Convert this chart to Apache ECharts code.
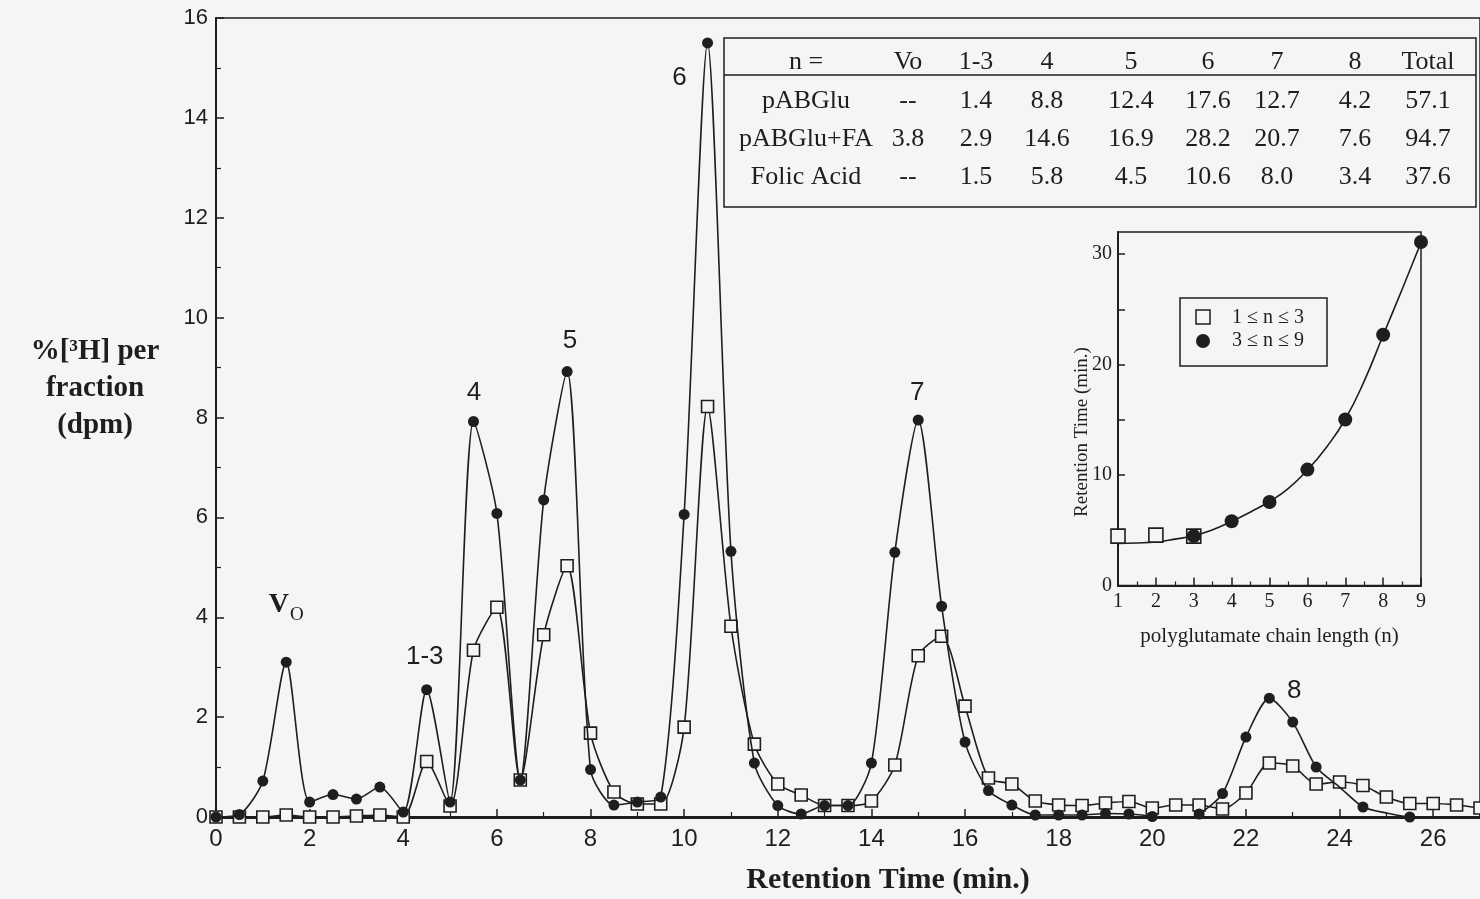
<!DOCTYPE html>
<html>
<head>
<meta charset="utf-8">
<title>Polyglutamate HPLC profile</title>
<script src="https://cdn.jsdelivr.net/npm/echarts@6/dist/echarts.min.js"></script>
<style>
  html, body { margin: 0; padding: 0; background: #f5f5f7; }
  #chart { width: 1480px; height: 899px; }
</style>
</head>
<body>
<div id="chart"></div>
<script>
// Fraction times (min.), one fraction every 0.5 min
const times = [0, 0.5, 1, 1.5, 2, 2.5, 3, 3.5, 4, 4.5, 5, 5.5, 6, 6.5, 7, 7.5, 8, 8.5, 9, 9.5,
  10, 10.5, 11, 11.5, 12, 12.5, 13, 13.5, 14, 14.5, 15, 15.5, 16, 16.5, 17, 17.5, 18, 18.5, 19, 19.5,
  20, 20.5, 21, 21.5, 22, 22.5, 23, 23.5, 24, 24.5, 25, 25.5, 26, 26.5, 27];

// Filled circles: % [3H] per fraction
const circleValues = [0, 0.05, 0.72, 3.1, 0.3, 0.45, 0.36, 0.6, 0.1, 2.55, 0.3, 7.92, 6.08, 0.74, 6.35, 8.92, 0.95, 0.24, 0.3, 0.4,
  6.06, 15.5, 5.32, 1.08, 0.23, 0.06, 0.23, 0.23, 1.08, 5.3, 7.95, 4.22, 1.5, 0.53, 0.24, 0.04, 0.04, 0.04, 0.07, 0.06,
  0.01, -0.1, 0.06, 0.47, 1.6, 2.38, 1.9, 1.0, 0.6, 0.2, 0.08, 0.0, 0, 0, 0];
// fractions of the circle trace drawn without a marker
const circleUnmarked = [24, 25, 26, 26.5, 27];

// Open squares: % [3H] per fraction
const squareValues = [0, 0, 0, 0.04, 0, 0, 0.02, 0.04, 0, 1.11, 0.22, 3.34, 4.2, 0.74, 3.65, 5.03, 1.68, 0.5, 0.26, 0.26,
  1.8, 8.22, 3.82, 1.46, 0.66, 0.44, 0.23, 0.23, 0.32, 1.04, 3.23, 3.62, 2.22, 0.78, 0.66, 0.32, 0.24, 0.23, 0.28, 0.31,
  0.18, 0.24, 0.24, 0.16, 0.48, 1.08, 1.02, 0.66, 0.7, 0.63, 0.4, 0.27, 0.27, 0.24, 0.18];

// Peak names and where they sit (time, %)
const peakNames = ['Vo', '1-3', '4', '5', '6', '7', '8'];
const peakTimes = [1.5, 4.46, 5.51, 7.56, 9.9, 14.98, 23.03];
const peakLevels = [4.22, 3.21, 8.5, 9.53, 14.8, 8.5, 2.52];

// Axis ticks
const yTicks = [0, 2, 4, 6, 8, 10, 12, 14, 16];
const xTicks = [0, 2, 4, 6, 8, 10, 12, 14, 16, 18, 20, 22, 24, 26];

// Quantification table
const tableHeader = ['n =', 'Vo', '1-3', '4', '5', '6', '7', '8', 'Total'];
const tableRowPABGlu = ['pABGlu', '--', '1.4', '8.8', '12.4', '17.6', '12.7', '4.2', '57.1'];
const tableRowPABGluFA = ['pABGlu+FA', '3.8', '2.9', '14.6', '16.9', '28.2', '20.7', '7.6', '94.7'];
const tableRowFolic = ['Folic Acid', '--', '1.5', '5.8', '4.5', '10.6', '8.0', '3.4', '37.6'];

// Inset: retention time vs polyglutamate chain length
const insetSquareN = [1, 2, 3];
const insetSquareRT = [4.47, 4.56, 4.47];
const insetCircleN = [3, 4, 5, 6, 7, 8, 9];
const insetCircleRT = [4.47, 5.82, 7.56, 10.49, 15.03, 22.7, 31.1];
const insetFitN = [1, 1.5, 2, 2.5, 3, 3.5, 4, 4.5, 5, 5.5, 6, 6.5, 7, 7.5, 8, 8.5, 9];
const insetFitRT = [3.8, 3.85, 3.95, 4.2, 4.5, 5.05, 5.8, 6.66, 7.6, 8.8, 10.45, 12.5, 15.05, 18.5, 22.65, 26.8, 31.05];
const insetLegend = ['1 \u2264 n \u2264 3', '3 \u2264 n \u2264 9'];

const BG = '#f5f5f7';
const INK = '#1e1e1e';
const SANS = '"Liberation Sans", Arial, sans-serif';
const SERIF = '"Liberation Serif", "Times New Roman", serif';

const circleData = times.map((t, i) =>
  circleUnmarked.includes(t) ? { value: [t, circleValues[i]], symbol: 'none' } : [t, circleValues[i]]);
const squareData = times.map((t, i) => [t, squareValues[i]]);
const peakData = peakNames.map((n, i) => [peakTimes[i], peakLevels[i], n]);

// table layout
const tableLeft = 724, tableTop = 38, tableWidth = 752, tableHeight = 169;
const colCenters = [806, 908, 976, 1047, 1131, 1208, 1277, 1355, 1428];
const rowCenters = [62, 101, 139, 177];
const tableGraphics = [
  { type: 'rect', shape: { x: tableLeft, y: tableTop, width: tableWidth, height: tableHeight },
    style: { fill: BG, stroke: INK, lineWidth: 1.5 } },
  { type: 'line', shape: { x1: tableLeft, y1: 75, x2: tableLeft + tableWidth, y2: 75 },
    style: { stroke: INK, lineWidth: 1.5 } }
];
[tableHeader, tableRowPABGlu, tableRowPABGluFA, tableRowFolic].forEach((row, r) => {
  row.forEach((cell, c) => {
    tableGraphics.push({
      type: 'text', x: colCenters[c], y: rowCenters[r],
      style: { text: cell, font: '26px ' + SERIF, fill: INK, align: 'center', verticalAlign: 'middle' }
    });
  });
});

// inset legend box
const legendGraphics = [
  { type: 'rect', shape: { x: 1180, y: 298, width: 147, height: 68 },
    style: { fill: BG, stroke: INK, lineWidth: 1.5 } },
  { type: 'rect', shape: { x: 1196, y: 310, width: 14, height: 14 },
    style: { fill: BG, stroke: INK, lineWidth: 1.5 } },
  { type: 'circle', shape: { cx: 1203, cy: 341, r: 7 }, style: { fill: INK } },
  { type: 'text', x: 1268, y: 318, style: { text: insetLegend[0], font: '20px ' + SERIF, fill: INK, align: 'center', verticalAlign: 'middle' } },
  { type: 'text', x: 1268, y: 341, style: { text: insetLegend[1], font: '20px ' + SERIF, fill: INK, align: 'center', verticalAlign: 'middle' } }
];

const chart = echarts.init(document.getElementById('chart'), null, { renderer: 'canvas' });

chart.setOption({
  backgroundColor: BG,
  animation: false,
  grid: [
    { left: 216, top: 18, right: -1, bottom: 82, show: true, borderColor: INK, borderWidth: 1.5, backgroundColor: 'transparent' },
    { left: 1118, top: 232, right: 59, bottom: 313.5, show: true, borderColor: INK, borderWidth: 1.5, backgroundColor: 'transparent' }
  ],
  xAxis: [
    {
      type: 'value', gridIndex: 0, min: 0, max: 27, interval: 2,
      axisLine: { show: true, onZero: false, lineStyle: { color: INK, width: 3 } },
      axisTick: { show: true, inside: true, length: 8, lineStyle: { color: INK, width: 1.5 } },
      minorTick: { show: true, splitNumber: 2, length: 5, lineStyle: { color: INK, width: 1.2 } },
      axisLabel: { show: true, fontFamily: SANS, fontSize: 24, color: INK, margin: 10,
        customValues: xTicks },
      splitLine: { show: false }
    },
    {
      type: 'value', gridIndex: 1, min: 1, max: 9, interval: 1,
      name: 'polyglutamate chain length (n)', nameLocation: 'middle', nameGap: 40,
      nameTextStyle: { fontFamily: SERIF, fontSize: 21, color: INK },
      axisLine: { show: true, onZero: false, lineStyle: { color: INK, width: 2 } },
      axisTick: { show: true, inside: true, length: 8, lineStyle: { color: INK, width: 1.5 } },
      minorTick: { show: true, splitNumber: 2, length: 4, lineStyle: { color: INK, width: 1.2 } },
      axisLabel: { show: true, fontFamily: SERIF, fontSize: 20, color: INK, margin: 6 },
      splitLine: { show: false }
    }
  ],
  yAxis: [
    {
      type: 'value', gridIndex: 0, min: 0, max: 16, interval: 2,
      axisLine: { show: true, onZero: false, lineStyle: { color: INK, width: 2 } },
      axisTick: { show: true, inside: true, length: 8, lineStyle: { color: INK, width: 1.5 } },
      minorTick: { show: true, splitNumber: 2, length: 5, lineStyle: { color: INK, width: 1.2 } },
      axisLabel: { show: true, fontFamily: SANS, fontSize: 22, color: INK, margin: 8, customValues: yTicks },
      splitLine: { show: false }
    },
    {
      type: 'value', gridIndex: 1, min: 0, max: 32,
      axisLine: { show: true, onZero: false, lineStyle: { color: INK, width: 2 } },
      axisTick: { show: true, inside: true, length: 7, lineStyle: { color: INK, width: 1.5 },
        customValues: [0, 5, 10, 15, 20, 25, 30] },
      axisLabel: { show: true, fontFamily: SERIF, fontSize: 20, color: INK, margin: 6,
        customValues: [0, 10, 20, 30] },
      splitLine: { show: false }
    }
  ],
  graphic: [
    { type: 'text', x: 95, y: 389,
      style: { text: '%[\u00B3H] per\nfraction\n(dpm)', font: 'bold 29px ' + SERIF, fill: INK,
        align: 'center', verticalAlign: 'middle', lineHeight: 37 } },
    { type: 'text', x: 888, y: 880,
      style: { text: 'Retention Time (min.)', font: 'bold 30px ' + SERIF, fill: INK,
        align: 'center', verticalAlign: 'middle' } },
    { type: 'text', x: 1082, y: 432, rotation: Math.PI / 2,
      style: { text: 'Retention Time (min.)', font: '19px ' + SERIF, fill: INK,
        align: 'center', verticalAlign: 'middle' } }
  ].concat(tableGraphics, legendGraphics),
  series: [
    {
      name: 'open squares', type: 'line', xAxisIndex: 0, yAxisIndex: 0,
      data: squareData, smooth: 0.25, silent: true, z: 3,
      symbol: 'rect', symbolSize: 12, showAllSymbol: true,
      lineStyle: { color: INK, width: 1.6 },
      itemStyle: { color: BG, borderColor: INK, borderWidth: 1.6 }
    },
    {
      name: 'filled circles', type: 'line', xAxisIndex: 0, yAxisIndex: 0,
      data: circleData, smooth: 0.25, silent: true, z: 4,
      symbol: 'circle', symbolSize: 11, showAllSymbol: true,
      lineStyle: { color: INK, width: 1.6 },
      itemStyle: { color: INK, borderColor: INK, borderWidth: 0 }
    },
    {
      name: 'peak labels', type: 'scatter', xAxisIndex: 0, yAxisIndex: 0,
      data: peakData, symbolSize: 0, silent: true, z: 5,
      itemStyle: { opacity: 1 },
      label: {
        show: true, position: 'inside', color: INK, fontFamily: SANS, fontSize: 26,
        formatter: p => p.value[2] === 'Vo' ? '{v|V}{s|O}' : p.value[2],
        rich: {
          v: { fontFamily: SERIF, fontWeight: 'bold', fontSize: 28, color: INK, verticalAlign: 'top', lineHeight: 30 },
          s: { fontFamily: SERIF, fontSize: 19, color: INK, verticalAlign: 'top', lineHeight: 19, padding: [14, 0, 0, 1] }
        }
      }
    },
    {
      name: 'fit', type: 'line', xAxisIndex: 1, yAxisIndex: 1,
      data: insetFitN.map((n, i) => [n, insetFitRT[i]]), smooth: 0.5, silent: true, z: 3,
      symbol: 'none', lineStyle: { color: INK, width: 1.6 }
    },
    {
      name: insetLegend[0], type: 'scatter', xAxisIndex: 1, yAxisIndex: 1,
      data: insetSquareN.map((n, i) => [n, insetSquareRT[i]]), silent: true, z: 4,
      symbol: 'rect', symbolSize: 14,
      itemStyle: { color: BG, borderColor: INK, borderWidth: 1.6, opacity: 1 }
    },
    {
      name: insetLegend[1], type: 'scatter', xAxisIndex: 1, yAxisIndex: 1,
      data: insetCircleN.map((n, i) => [n, insetCircleRT[i]]), silent: true, z: 5,
      symbol: 'circle', symbolSize: 14,
      itemStyle: { color: INK, opacity: 1 }
    }
  ]
});
</script>
</body>
</html>
